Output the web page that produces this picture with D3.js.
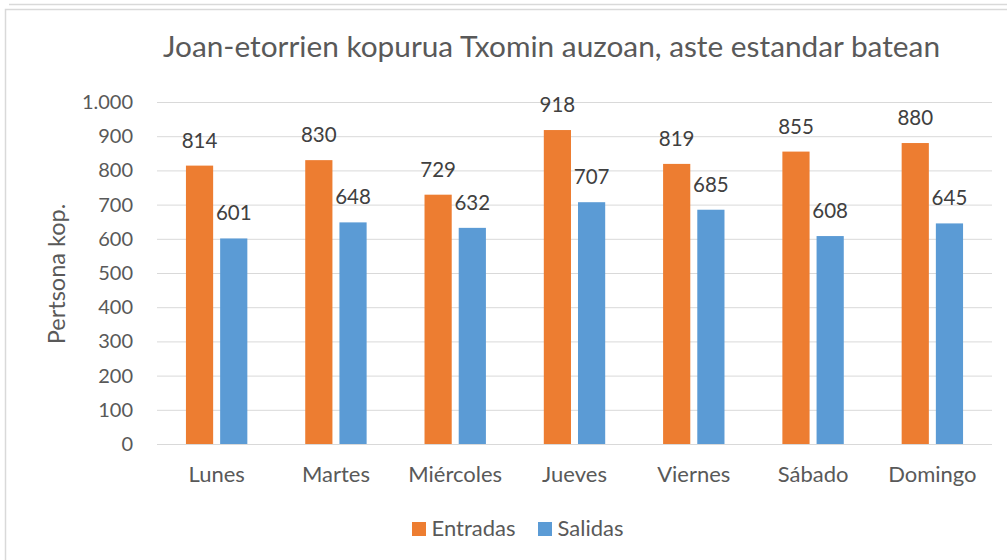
<!DOCTYPE html>
<html><head><meta charset="utf-8">
<script src="https://cdn.jsdelivr.net/npm/d3@7"></script>
<style>
html,body{margin:0;padding:0;background:#fff;}
svg{display:block;font-family:Lato,sans-serif;}
</style></head>
<body>
<svg id="c" width="1007" height="560"></svg>
<script>
const categories = ["Lunes","Martes","Miércoles","Jueves","Viernes","Sábado","Domingo"];
const entradas = [814,830,729,918,819,855,880];
const salidas = [601,648,632,707,685,608,645];
const seriesNames = ["Entradas","Salidas"];
const yTicks = [0,100,200,300,400,500,600,700,800,900,1000];
const title = "Joan-etorrien kopurua Txomin auzoan, aste estandar batean";
const yTitle = "Pertsona kop.";

const colors = ["#ED7D31","#5B9BD5"];
const FONT = "Lato";
const svg = d3.select("#c");
const W = 1007, H = 560;

// frame
svg.append("line").attr("x1",9).attr("x2",W).attr("y1",4.5).attr("y2",4.5).attr("stroke","#d9d9d9").attr("stroke-width",1.5);
svg.append("path").attr("d",`M5.5,${H} V9.5 H${W}`).attr("fill","none").attr("stroke","#d9d9d9").attr("stroke-width",1.5);

const m = {left:157, right:992, top:102, bottom:444};
const x = d3.scaleBand().domain(categories).range([m.left,m.right]);
const y = d3.scaleLinear().domain([0,1000]).range([m.bottom,m.top]);

const fmt = d => d3.format(",")(d).replace(/,/g,".");

// gridlines
svg.append("g").selectAll("line").data(yTicks).join("line")
  .attr("x1",m.left).attr("x2",m.right)
  .attr("y1",d=>y(d)+0.5).attr("y2",d=>y(d)+0.5)
  .attr("stroke","#d9d9d9").attr("stroke-width",1);

// y axis labels
const yAxis = d3.axisLeft(y).tickValues(yTicks).tickFormat(fmt).tickSize(0).tickPadding(24);
const gy = svg.append("g").attr("transform",`translate(${m.left},0)`).call(yAxis);
gy.select(".domain").remove();
gy.selectAll("text").attr("font-size",20).attr("fill","#595959").attr("font-family",FONT);

// x axis labels
const xAxis = d3.axisBottom(x).tickSize(0).tickPadding(22);
const gx = svg.append("g").attr("transform",`translate(0,${m.bottom})`).call(xAxis);
gx.select(".domain").remove();
gx.selectAll("text").attr("font-size",22).attr("fill","#595959").attr("font-family",FONT);

const bw = x.bandwidth()*0.228;
const gap = 7;
const series = [entradas, salidas];
series.forEach((vals,si)=>{
  const off = si===0 ? -gap/2-bw : gap/2;
  const g = svg.append("g");
  g.selectAll("rect").data(vals).join("rect")
    .attr("x",(d,i)=>x(categories[i])+x.bandwidth()/2+off)
    .attr("width",bw)
    .attr("y",d=>y(d)).attr("height",d=>y(0)-y(d))
    .attr("fill",colors[si]);
  g.selectAll("text").data(vals).join("text")
    .attr("x",(d,i)=>x(categories[i])+x.bandwidth()/2+off+bw/2)
    .attr("y",d=>y(d)-18)
    .attr("text-anchor","middle")
    .attr("font-size",20.5).attr("fill","#404040")
    .text(d=>d);
});

// title
svg.append("text").attr("x",551.5).attr("y",57).attr("text-anchor","middle")
  .attr("font-size",29.8).attr("fill","#595959").text(title);

// y title
svg.append("text").attr("transform",`translate(65,274) rotate(-90)`).attr("text-anchor","middle")
  .attr("font-size",23.5).attr("fill","#595959").text(yTitle);

// legend
const lg = svg.append("g");
const legX = [412, 538];
seriesNames.forEach((n,i)=>{
  lg.append("rect").attr("x",legX[i]).attr("y",522).attr("width",14).attr("height",14).attr("fill",colors[i]);
  lg.append("text").attr("x",legX[i]+19.5).attr("y",536).attr("font-size",22).attr("fill","#595959").text(n);
});
</script>
</body></html>
